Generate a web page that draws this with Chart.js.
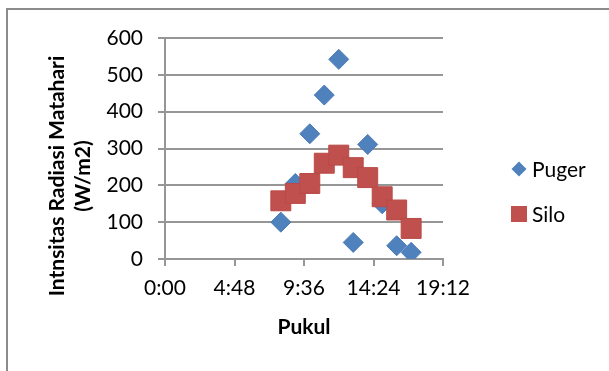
<!DOCTYPE html>
<html>
<head>
<meta charset="utf-8">
<script src="https://cdn.jsdelivr.net/npm/chart.js@4.4.1/dist/chart.umd.min.js"></script>
<style>
  html, body { margin: 0; padding: 0; background: #fff; overflow: hidden; }
  #wrap { position: relative; width: 609px; height: 371px; }
  #frame {
    position: absolute; left: 6px; top: 8px; width: 700px; height: 500px;
    border-left: 2px solid #8c8c8c; border-top: 2px solid #8c8c8c;
  }
  canvas { position: absolute; left: 0; top: 0; }
</style>
</head>
<body>
<div id="wrap">
  <div id="frame"></div>
  <canvas id="chart" width="609" height="371"></canvas>
</div>
<script>
// Measurement times (Pukul) and radiation intensity (W/m2)
const times = ['8:00', '9:00', '10:00', '11:00', '12:00', '13:00', '14:00', '15:00', '16:00', '17:00'];
const puger = [100, 205, 340, 445, 542, 45, 311, 150, 36, 18];
const silo = [158, 178, 205, 260, 282, 248, 221, 169, 133, 83];

const yTitle = ['Intnsitas Radiasi Matahari', '(W/m2)'];
const xTitle = 'Pukul';

const BLUE = '#4f81bd';
const RED = '#c0504d';
const FONT = 'Lato, "Open Sans", sans-serif';

const toMinutes = t => {
  const [hh, mm] = t.split(':').map(Number);
  return hh * 60 + mm;
};
const fmtTime = v => Math.floor(v / 60) + ':' + String(Math.round(v % 60)).padStart(2, '0');

const points = vals => times.map((t, i) => ({ x: toMinutes(t), y: vals[i] }));

// Rotated y axis title and the legend on the right
const extras = {
  id: 'extras',
  afterDraw(chart) {
    const ctx = chart.ctx;
    ctx.save();
    ctx.fillStyle = '#000';
    ctx.font = 'bold 21px ' + FONT;
    ctx.textAlign = 'center';
    ctx.textBaseline = 'middle';
    [57, 83].forEach((x, i) => {
      ctx.save();
      ctx.translate(x, 176);
      ctx.rotate(-Math.PI / 2);
      ctx.fillText(yTitle[i], 0, 0);
      ctx.restore();
    });

    // legend
    ctx.font = '21px ' + FONT;
    ctx.textAlign = 'left';
    ctx.fillStyle = BLUE;
    ctx.beginPath();
    ctx.moveTo(519, 161.5); ctx.lineTo(526.5, 169); ctx.lineTo(519, 176.5); ctx.lineTo(511.5, 169);
    ctx.closePath();
    ctx.fill();
    ctx.fillStyle = RED;
    ctx.fillRect(511, 206, 16, 16);
    ctx.fillStyle = '#000';
    chart.data.datasets.slice().sort((a, b) => a.legendIdx - b.legendIdx).forEach((ds, i) => {
      ctx.fillText(ds.label, 532, 170 + i * 45);
    });
    ctx.restore();
  }
};

new Chart(document.getElementById('chart'), {
  type: 'scatter',
  data: {
    datasets: [
      {
        label: 'Silo',
        legendIdx: 1,
        data: points(silo),
        pointStyle: 'rect',
        pointRadius: 14.1,
        pointHoverRadius: 14.1,
        backgroundColor: RED,
        borderColor: '#b94a47',
        borderWidth: 1,
        order: 1
      },
      {
        label: 'Puger',
        legendIdx: 0,
        data: points(puger),
        pointStyle: 'rectRot',
        pointRadius: 10,
        pointHoverRadius: 10,
        backgroundColor: BLUE,
        borderColor: '#4a7ab4',
        borderWidth: 1,
        order: 2
      }
    ]
  },
  options: {
    responsive: false,
    animation: false,
    layout: { padding: { left: 0, top: 38, right: 166, bottom: 0 } },
    plugins: {
      legend: { display: false },
      tooltip: { enabled: false }
    },
    scales: {
      x: {
        type: 'linear',
        min: 0,
        max: 1152,
        afterFit: s => { s.height = 112; },
        ticks: {
          stepSize: 288,
          color: '#000',
          padding: 10,
          font: { family: FONT, size: 21 },
          callback: v => fmtTime(v)
        },
        grid: { drawOnChartArea: false, drawTicks: true, tickLength: 7, color: '#969696', lineWidth: 2 },
        border: { color: '#969696', width: 2 },
        title: {
          display: true,
          text: xTitle,
          color: '#000',
          font: { family: FONT, size: 21, weight: 'bold' },
          padding: { top: 0, bottom: 31 }
        }
      },
      y: {
        min: 0,
        max: 600,
        afterFit: s => { s.width = 165; },
        ticks: {
          stepSize: 100,
          color: '#000',
          padding: 15,
          font: { family: FONT, size: 21 }
        },
        grid: { color: '#969696', lineWidth: 2, tickLength: 7 },
        border: { color: '#969696', width: 2 }
      }
    }
  },
  plugins: [extras]
});
</script>
</body>
</html>
